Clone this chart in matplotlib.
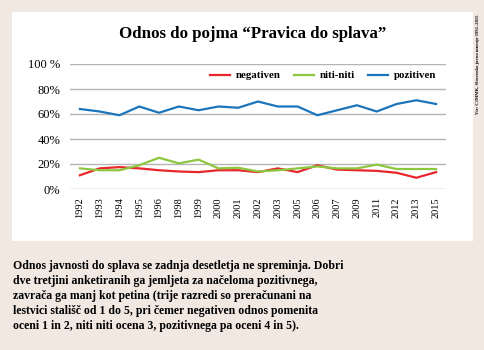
import matplotlib.pyplot as plt
from matplotlib.patches import Rectangle

# podatki
leta = ['1992', '1993', '1994', '1995', '1996', '1998', '1999', '2000', '2001', '2002',
        '2003', '2005', '2006', '2007', '2009', '2011', '2012', '2013', '2015']
negativen = [11, 16.5, 17.5, 16.5, 15, 14, 13.5, 15, 15, 13.5,
             16.5, 13.5, 19, 15.5, 15, 14.5, 13, 9, 13.5]
niti_niti = [16.5, 15, 15, 19, 25, 20.5, 23.5, 16.5, 17, 14,
             15, 16.5, 18, 16.5, 16.5, 19.5, 16, 16, 16]
pozitiven = [64, 62, 59, 66, 61, 66, 63, 66, 65, 70,
             66, 66, 59, 63, 67, 62, 68, 71, 68]
y_ticks = [0, 20, 40, 60, 80, 100]
y_labels = ['0%', '20%', '40%', '60%', '80%', '100 %']

ozadje = '#f1e8e2'
serif = 'Liberation Serif'

fig = plt.figure(figsize=(4.84, 3.5), dpi=100, facecolor=ozadje)

# bel okvir
fig.patches.append(Rectangle((12 / 484, 1 - 241 / 350), 461 / 484, 229 / 350,
                             transform=fig.transFigure, facecolor='white',
                             edgecolor='none', zorder=-5))

ax = fig.add_axes([70 / 484, 1 - 189 / 350, 376 / 484, 125 / 350])
ax.set_facecolor('none')

x = range(len(leta))
ax.plot(x, negativen, color='#e8262b', lw=1.6, label='negativen')
ax.plot(x, niti_niti, color='#8dc63f', lw=1.6, label='niti-niti')
ax.plot(x, pozitiven, color='#1b75bc', lw=1.6, label='pozitiven')

ax.set_xlim(-0.5, len(leta) - 0.5)
ax.set_ylim(0, 100)
ax.set_yticks(y_ticks)
ax.set_yticklabels(y_labels, family=serif, fontsize=9)
ax.set_xticks(list(x))
ax.set_xticklabels(leta, rotation=90, family=serif, fontsize=7.5)
ax.tick_params(length=0, pad=6)
ax.tick_params(axis='y', pad=7)
ax.grid(axis='y', color='#b5b5b5', lw=1)
ax.set_axisbelow(True)
for s in ax.spines.values():
    s.set_visible(False)

ax.legend(loc='upper right', ncol=3, frameon=False, bbox_to_anchor=(0.985, 0.98),
          prop={'family': serif, 'size': 7.8, 'weight': 'bold'},
          handlelength=1.9, columnspacing=1.2, handletextpad=0.5, borderaxespad=0)

fig.text(253 / 484, 1 - 34 / 350, 'Odnos do pojma \u201cPravica do splava\u201d',
         ha='center', va='center', family=serif, fontsize=12.2, weight='bold')

fig.text(478 / 484, 1 - 15 / 350, 'Vir: CJMMK, Slovensko javno mnenje 1992\u20132015',
         rotation=90, ha='center', va='top', family=serif, fontsize=3.3, weight='bold')

opis = ('Odnos javnosti do splava se zadnja desetletja ne spreminja. Dobri\n'
        'dve tretjini anketiranih ga jemljeta za načeloma pozitivnega,\n'
        'zavrača ga manj kot petina (trije razredi so preračunani na\n'
        'lestvici stališč od 1 do 5, pri čemer negativen odnos pomenita\n'
        'oceni 1 in 2, niti niti ocena 3, pozitivnega pa oceni 4 in 5).')
fig.text(13 / 484, 1 - 260 / 350, opis, ha='left', va='top', family=serif,
         fontsize=8.5, weight='bold', linespacing=1.32)

fig.savefig('out.png', dpi=100, facecolor=ozadje)
